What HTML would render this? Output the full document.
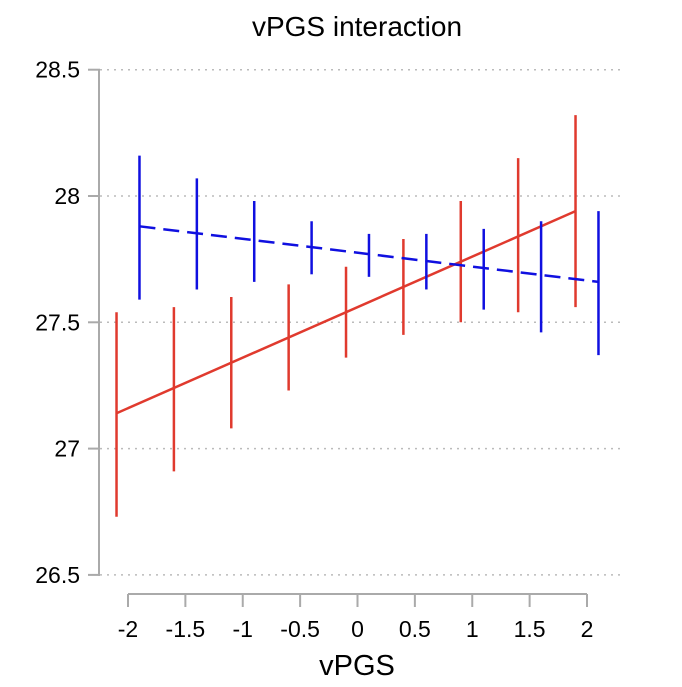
<!DOCTYPE html>
<html><head><meta charset="utf-8"><style>
body{margin:0;background:#fff}
svg text{font-family:"Liberation Sans",Arial,sans-serif;fill:#000}
</style></head><body>
<svg id="chart" width="682" height="682" viewBox="0 0 682 682" xmlns="http://www.w3.org/2000/svg">
<text x="357" y="36" font-size="28" text-anchor="middle">vPGS interaction</text>
<text x="357" y="675" font-size="29" text-anchor="middle">vPGS</text>
<g id="grid"></g><g id="axes"></g><g id="series"></g>
</svg>
<script>
const xTicks=[-2,-1.5,-1,-0.5,0,0.5,1,1.5,2];
const yTicks=[26.5,27,27.5,28,28.5];
const redX=[-2.1,-1.6,-1.1,-0.6,-0.1,0.4,0.9,1.4,1.9];
const redLo=[26.73,26.91,27.08,27.23,27.36,27.45,27.50,27.54,27.56];
const redHi=[27.54,27.56,27.60,27.65,27.72,27.83,27.98,28.15,28.32];
const redLine=[27.14,27.94];
const blueX=[-1.9,-1.4,-0.9,-0.4,0.1,0.6,1.1,1.6,2.1];
const blueLo=[27.59,27.63,27.66,27.69,27.68,27.63,27.55,27.46,27.37];
const blueHi=[28.16,28.07,27.98,27.90,27.85,27.85,27.87,27.90,27.94];
const blueLine=[27.88,27.66];
const X=v=>357.5+v*114.75;
const Y=v=>196-(v-28)*252.6;
const NS="http://www.w3.org/2000/svg";
function mk(parent,tag,attrs){const e=document.createElementNS(NS,tag);for(const k in attrs)e.setAttribute(k,attrs[k]);document.getElementById(parent).appendChild(e);return e;}
yTicks.forEach(t=>{
 const g=mk('grid','line',{x1:100,x2:620,y1:Y(t),y2:Y(t),stroke:'#bbb','stroke-width':1.5,'stroke-dasharray':'2,5'});
 
 
 const tk=mk('axes','line',{x1:88,x2:100,y1:Y(t),y2:Y(t),stroke:'#aaa','stroke-width':2});
 
 
 const lb=mk('axes','text',{x:80,y:Y(t)+8,'font-size':23,'text-anchor':'end'});
 lb.textContent=String(t);
 
 
});
const ya=mk('axes','line',{x1:99,x2:99,y1:Y(28.5),y2:Y(26.5)+1,stroke:'#aaa','stroke-width':2});


const xa=mk('axes','line',{x1:X(-2),x2:X(2),y1:594,y2:594,stroke:'#aaa','stroke-width':2});


xTicks.forEach(t=>{
 const tk=mk('axes','line',{x1:X(t),x2:X(t),y1:594,y2:607,stroke:'#aaa','stroke-width':2});
 
 
 const lb=mk('axes','text',{x:X(t),y:637,'font-size':23,'text-anchor':'middle'});
 lb.textContent=String(t);
 
 
});
function series(xs,lo,hi,line,color,dash,name){
 xs.forEach((x,i)=>{
  const b=mk('series','line',{x1:X(x),x2:X(x),y1:Y(lo[i]),y2:Y(hi[i]),stroke:color,'stroke-width':2.5});
  
  
 });
 const l=mk('series','line',{x1:X(xs[0]),x2:X(xs[xs.length-1]),y1:Y(line[0]),y2:Y(line[1]),stroke:color,'stroke-width':2.5});
 if(dash)l.setAttribute('stroke-dasharray',dash);
 
 
}
series(redX,redLo,redHi,redLine,'#e03a2e',null,'red');
series(blueX,blueLo,blueHi,blueLine,'#1010e0','16,8','blue');
</script>
</body></html>
